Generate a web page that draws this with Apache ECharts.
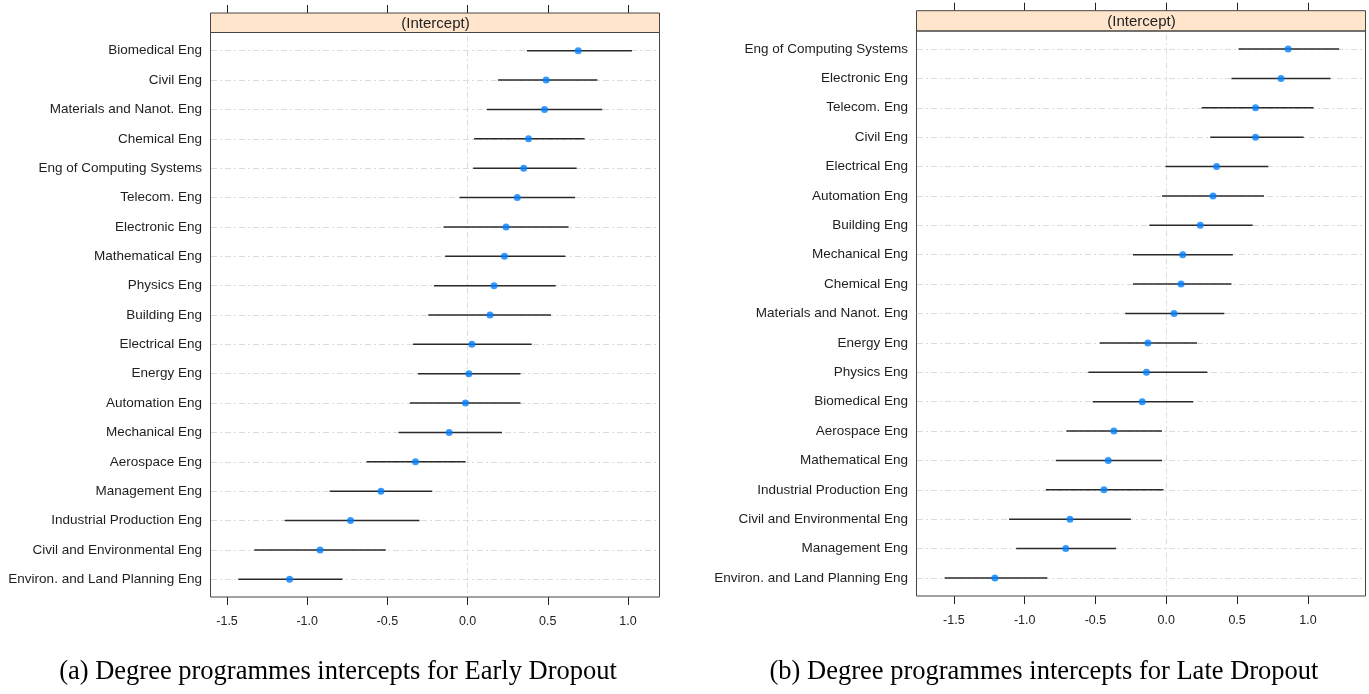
<!DOCTYPE html>
<html lang="en">
<head>
  <meta charset="UTF-8">
  <title>Degree programmes intercepts</title>
  <style>
    html, body { margin: 0; padding: 0; background: #fff; }
    #main { width: 1369px; height: 694px; }
  </style>
</head>
<body>
  <div id="main"></div>
  <script src="https://cdn.jsdelivr.net/npm/echarts@6/dist/echarts.min.js"></script>
  <script>
    // (a) early dropout, top to bottom
    var catsEarly = ["Biomedical Eng", "Civil Eng", "Materials and Nanot. Eng", "Chemical Eng",
      "Eng of Computing Systems", "Telecom. Eng", "Electronic Eng", "Mathematical Eng", "Physics Eng",
      "Building Eng", "Electrical Eng", "Energy Eng", "Automation Eng", "Mechanical Eng", "Aerospace Eng",
      "Management Eng", "Industrial Production Eng", "Civil and Environmental Eng", "Environ. and Land Planning Eng"];
    var estEarly  = [0.69, 0.49, 0.48, 0.38, 0.35, 0.31, 0.24, 0.23, 0.165, 0.14, 0.027, 0.008, -0.013, -0.115, -0.325, -0.54, -0.73, -0.92, -1.11];
    var lowEarly  = [0.37, 0.19, 0.12, 0.04, 0.035, -0.05, -0.15, -0.14, -0.21, -0.245, -0.34, -0.31, -0.36, -0.43, -0.63, -0.86, -1.14, -1.33, -1.43];
    var highEarly = [1.025, 0.81, 0.84, 0.73, 0.68, 0.67, 0.63, 0.61, 0.55, 0.52, 0.40, 0.33, 0.33, 0.215, -0.013, -0.22, -0.30, -0.51, -0.78];

    // (b) late dropout, top to bottom
    var catsLate = ["Eng of Computing Systems", "Electronic Eng", "Telecom. Eng", "Civil Eng", "Electrical Eng",
      "Automation Eng", "Building Eng", "Mechanical Eng", "Chemical Eng", "Materials and Nanot. Eng", "Energy Eng",
      "Physics Eng", "Biomedical Eng", "Aerospace Eng", "Mathematical Eng", "Industrial Production Eng",
      "Civil and Environmental Eng", "Management Eng", "Environ. and Land Planning Eng"];
    var estLate  = [0.86, 0.81, 0.63, 0.63, 0.355, 0.33, 0.24, 0.116, 0.104, 0.055, -0.13, -0.14, -0.17, -0.37, -0.41, -0.44, -0.68, -0.71, -1.21];
    var lowLate  = [0.51, 0.46, 0.25, 0.31, -0.006, -0.03, -0.12, -0.235, -0.235, -0.29, -0.47, -0.55, -0.52, -0.705, -0.78, -0.85, -1.11, -1.06, -1.565];
    var highLate = [1.22, 1.16, 1.04, 0.97, 0.72, 0.69, 0.61, 0.47, 0.46, 0.41, 0.217, 0.29, 0.19, -0.03, -0.03, -0.02, -0.25, -0.355, -0.84];

    var xTicks = [-1.5, -1.0, -0.5, 0.0, 0.5, 1.0];
    var stripText = "(Intercept)";
    var captions = ["(a) Degree programmes intercepts for Early Dropout",
                    "(b) Degree programmes intercepts for Late Dropout"];

    var sans = "'Liberation Sans', Arial, sans-serif";
    var serif = "'Liberation Serif', 'Times New Roman', serif";

    // panel geometry (pixels)
    var panels = [
      { cats: catsEarly, est: estEarly, low: lowEarly, high: highEarly,
        left: 211, width: 449, top: 36, height: 558, stripTop: 13, frameTop: 32.5, frameBottom: 597,
        min: -1.6, max: 1.2, caption: captions[0], capX: 338 },
      { cats: catsLate, est: estLate, low: lowLate, high: highLate,
        left: 917, width: 449, top: 34.3, height: 558.4, stripTop: 10.7, frameTop: 31, frameBottom: 596,
        min: -1.76, max: 1.41, caption: captions[1], capX: 1044 }
    ];

    var grid = [], xAxis = [], yAxis = [], series = [], graphic = [];

    panels.forEach(function (p, k) {
      grid.push({ left: p.left, top: p.top, width: p.width, height: p.height });

      // bottom axis with labels
      xAxis.push({
        type: 'value', gridIndex: k, min: p.min, max: p.max, position: 'bottom',
        offset: p.frameBottom - (p.top + p.height),
        axisLine: { show: false },
        axisTick: { show: true, customValues: xTicks, length: 8, lineStyle: { color: '#222' } },
        axisLabel: { customValues: xTicks, margin: 18, fontSize: 12.5, color: '#222', fontFamily: sans,
          formatter: function (v) { return v.toFixed(1); } },
        splitLine: { show: false }
      });
      // top axis, ticks only
      xAxis.push({
        type: 'value', gridIndex: k, min: p.min, max: p.max, position: 'top',
        offset: p.top - p.stripTop,
        axisLine: { show: false },
        axisTick: { show: true, customValues: xTicks, length: 8, lineStyle: { color: '#222' } },
        axisLabel: { show: false },
        splitLine: { show: false }
      });

      yAxis.push({
        type: 'category', gridIndex: k, data: p.cats, inverse: true,
        axisLine: { show: false }, axisTick: { show: false }, splitLine: { show: false },
        axisLabel: { margin: 9, fontSize: 13.5, color: '#1e1e1e', fontFamily: sans }
      });

      var refLines = p.cats.map(function (c) { return { yAxis: c }; });
      refLines.push({ xAxis: 0 });

      series.push({
        type: 'custom', xAxisIndex: 2 * k, yAxisIndex: k, z: 2,
        data: p.low.map(function (l, i) { return [l, p.high[i], i]; }),
        encode: { x: [0, 1], y: 2 },
        renderItem: function (params, api) {
          var a = api.coord([api.value(0), api.value(2)]);
          var b = api.coord([api.value(1), api.value(2)]);
          return { type: 'line', shape: { x1: a[0], y1: a[1], x2: b[0], y2: b[1] },
            style: { stroke: '#2a2a2a', lineWidth: 1.5 } };
        },
        silent: true
      });

      series.push({
        type: 'scatter', xAxisIndex: 2 * k, yAxisIndex: k, z: 3,
        data: p.est.map(function (v, i) { return [v, i]; }),
        symbol: 'circle', symbolSize: 7,
        itemStyle: { color: '#0080ff' },
        silent: true,
        markLine: {
          silent: true, symbol: 'none', z: 1, animation: false,
          label: { show: false },
          lineStyle: { color: '#dcdcdc', width: 1, type: [6, 3, 2, 3] },
          data: refLines
        }
      });

      // strip and panel frame
      graphic.push({
        type: 'rect', z: 10,
        shape: { x: p.left - 0.5, y: p.stripTop, width: p.width, height: p.frameTop - p.stripTop },
        style: { fill: '#ffe5cc', stroke: '#444', lineWidth: 1 }
      });
      graphic.push({
        type: 'text', z: 11, x: p.left + p.width / 2, y: (p.stripTop + p.frameTop) / 2 + 1,
        style: { text: stripText, font: "15px " + sans, fill: '#222', textAlign: 'center', textVerticalAlign: 'middle' }
      });
      graphic.push({
        type: 'rect', z: 10,
        shape: { x: p.left - 0.5, y: p.frameTop, width: p.width, height: p.frameBottom - p.frameTop },
        style: { fill: null, stroke: '#444', lineWidth: 1 }
      });
      graphic.push({
        type: 'text', z: 11, x: p.capX, y: 672,
        style: { text: p.caption, font: "26.5px " + serif, fill: '#000', textAlign: 'center', textVerticalAlign: 'middle' }
      });
    });

    var myChart = echarts.init(document.getElementById("main"));
    var option = {
      animation: false,
      backgroundColor: '#fff',
      grid: grid,
      xAxis: xAxis,
      yAxis: yAxis,
      series: series,
      graphic: graphic
    };
    myChart.setOption(option);
  </script>
</body>
</html>
